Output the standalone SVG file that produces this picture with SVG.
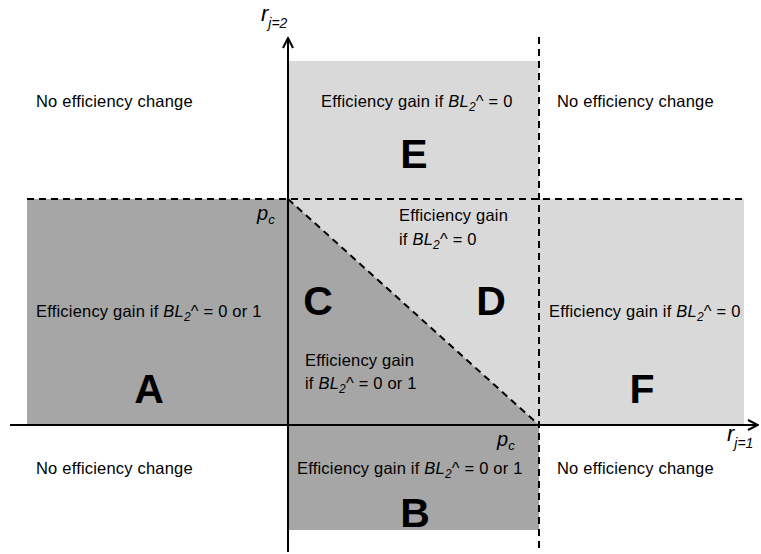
<svg xmlns="http://www.w3.org/2000/svg" width="761" height="554" viewBox="0 0 761 554">
<style>
.dark{fill:#a6a6a6}
.light{fill:#d9d9d9}
.t{font-family:"Liberation Sans",Arial,sans-serif;font-size:16.5px;letter-spacing:0.2px;fill:#000}
.big{font-family:"Liberation Sans",Arial,sans-serif;font-size:41px;font-weight:bold;fill:#000;text-anchor:middle}
.it{font-style:italic}
.sub{font-size:12px}
.axis{stroke:#000;stroke-width:2;fill:none}
.dash{stroke:#000;stroke-width:2;stroke-dasharray:7,5;fill:none}
.ax{font-family:"Liberation Sans",Arial,sans-serif;font-style:italic;fill:#000}
</style>
<defs>
<marker id="arr" viewBox="0 0 12 12" refX="11" refY="6" markerWidth="12" markerHeight="12" markerUnits="userSpaceOnUse" orient="auto">
<path d="M1,1 L11,6 L1,11" fill="none" stroke="#000" stroke-width="2"/>
</marker>
</defs>
<g id="regions">
<rect id="regionE" class="light" x="288" y="61" width="251" height="138"/>
<polygon id="regionD" class="light" points="288,199 539,199 539,425"/>
<rect id="regionF" class="light" x="539" y="199" width="205" height="226"/>
<rect id="regionA" class="dark" x="27" y="199" width="261" height="226"/>
<polygon id="regionC" class="dark" points="288,199 539,425 288,425"/>
<rect id="regionB" class="dark" x="288" y="425" width="251" height="105"/>
</g>
<g id="connectors">
<line class="dash" x1="27" y1="199" x2="745" y2="199"/>
<line class="dash" x1="539" y1="37" x2="539" y2="552"/>
<line class="dash" x1="288" y1="199" x2="539" y2="425"/>
<line class="axis" x1="10" y1="425" x2="758" y2="425" marker-end="url(#arr)"/>
<line class="axis" x1="288" y1="552" x2="288" y2="38" marker-end="url(#arr)"/>
</g>
<g id="axis-labels">
<text class="ax" x="261" y="21" font-size="22">r<tspan font-size="14" dy="7">j=2</tspan></text>
<text class="ax" x="727" y="441" font-size="22">r<tspan font-size="14" dy="7">j=1</tspan></text>
<text class="ax" x="257" y="220" font-size="20">p<tspan font-size="13" dy="4">c</tspan></text>
<text class="ax" x="497" y="446" font-size="20">p<tspan font-size="13" dy="4">c</tspan></text>
</g>
<g id="nodeTL"><text class="t" x="36" y="107">No efficiency change</text></g>
<g id="nodeTR"><text class="t" x="557" y="107">No efficiency change</text></g>
<g id="nodeBL"><text class="t" x="36" y="474">No efficiency change</text></g>
<g id="nodeBR"><text class="t" x="557" y="474">No efficiency change</text></g>
<g id="nodeE">
<text class="t" x="321" y="107">Efficiency gain if <tspan class="it">BL</tspan><tspan class="it sub" dy="4">2</tspan><tspan dy="-4">^ = 0</tspan></text>
<text class="big" x="414" y="168">E</text>
</g>
<g id="nodeD">
<text class="t" x="399" y="221">Efficiency gain</text>
<text class="t" x="399" y="245">if <tspan class="it">BL</tspan><tspan class="it sub" dy="4">2</tspan><tspan dy="-4">^ = 0</tspan></text>
<text class="big" x="491" y="315">D</text>
</g>
<g id="nodeA">
<text class="t" x="36" y="317">Efficiency gain if <tspan class="it">BL</tspan><tspan class="it sub" dy="4">2</tspan><tspan dy="-4">^ = 0 or 1</tspan></text>
<text class="big" x="149" y="403">A</text>
</g>
<g id="nodeC">
<text class="big" x="318" y="315">C</text>
<text class="t" x="305" y="366">Efficiency gain</text>
<text class="t" x="305" y="389">if <tspan class="it">BL</tspan><tspan class="it sub" dy="4">2</tspan><tspan dy="-4">^ = 0 or 1</tspan></text>
</g>
<g id="nodeF">
<text class="t" x="549" y="317">Efficiency gain if <tspan class="it">BL</tspan><tspan class="it sub" dy="4">2</tspan><tspan dy="-4">^ = 0</tspan></text>
<text class="big" x="642" y="403">F</text>
</g>
<g id="nodeB">
<text class="t" x="297" y="474">Efficiency gain if <tspan class="it">BL</tspan><tspan class="it sub" dy="4">2</tspan><tspan dy="-4">^ = 0 or 1</tspan></text>
<text class="big" x="415" y="527">B</text>
</g>
</svg>
